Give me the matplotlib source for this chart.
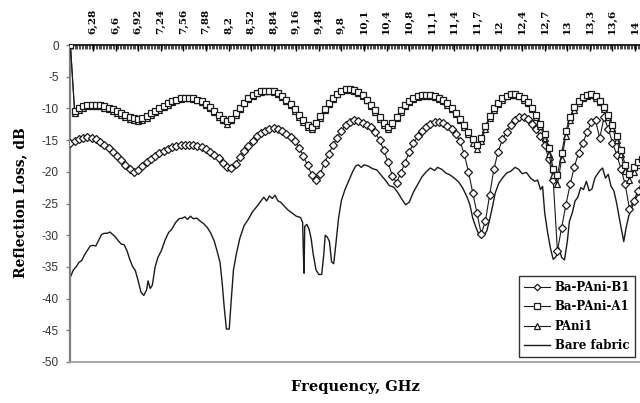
import numpy as np
import matplotlib
matplotlib.use("Agg")
import matplotlib.pyplot as plt

# ---------------- data ----------------
freq = [5.96, 6.02, 6.08, 6.14, 6.20, 6.26, 6.32, 6.38, 6.44, 6.50,
        6.56, 6.62, 6.68, 6.74, 6.80, 6.86, 6.92, 6.98, 7.04, 7.10,
        7.16, 7.22, 7.28, 7.34, 7.40, 7.46, 7.52, 7.58, 7.64, 7.70,
        7.76, 7.82, 7.88, 7.94, 8.00, 8.06, 8.12, 8.18, 8.24, 8.30,
        8.36, 8.42, 8.48, 8.54, 8.60, 8.66, 8.72, 8.78, 8.84, 8.90,
        8.96, 9.02, 9.08, 9.14, 9.20, 9.26, 9.32, 9.38, 9.44, 9.50,
        9.56, 9.62, 9.68, 9.74, 9.80, 9.86, 9.92, 9.98, 10.04, 10.10,
        10.16, 10.22, 10.28, 10.34, 10.40, 10.46, 10.52, 10.58, 10.64, 10.70,
        10.76, 10.82, 10.88, 10.94, 11.00, 11.06, 11.12, 11.18, 11.24, 11.30,
        11.36, 11.42, 11.48, 11.54, 11.60, 11.66, 11.72, 11.78, 11.84, 11.90,
        11.96, 12.02, 12.08, 12.14, 12.20, 12.26, 12.32, 12.38, 12.44, 12.50,
        12.56, 12.62, 12.68, 12.74, 12.80, 12.86, 12.92, 12.98, 13.04, 13.10,
        13.16, 13.22, 13.28, 13.34, 13.40, 13.46, 13.52, 13.58, 13.64, 13.70,
        13.76, 13.82, 13.88, 13.94, 14.00, 14.06]

ba_pani_b1 = [-15.4, -15.1, -14.8, -14.6, -14.5, -14.6, -14.9, -15.3, -15.8, -16.3,
              -16.9, -17.5, -18.2, -18.9, -19.6, -20.0, -19.7, -19.1, -18.5, -18.0,
              -17.5, -17.1, -16.7, -16.4, -16.1, -15.9, -15.8, -15.7, -15.7, -15.8,
              -15.9, -16.1, -16.4, -16.8, -17.3, -17.9, -18.6, -19.2, -19.4, -18.7,
              -17.7, -16.7, -15.9, -15.1, -14.4, -13.9, -13.5, -13.2, -13.1, -13.3,
              -13.6, -14.0, -14.5, -15.2, -16.2, -17.5, -19.0, -20.5, -21.3, -20.3,
              -18.6, -17.2, -15.8, -14.6, -13.5, -12.6, -12.1, -11.9, -12.0, -12.3,
              -12.6, -13.0, -13.8, -15.0, -16.6, -18.5, -20.6, -21.7, -20.2, -18.6,
              -16.9, -15.5, -14.4, -13.6, -13.0, -12.5, -12.2, -12.1, -12.3, -12.7,
              -13.2, -14.0, -15.2, -17.2, -20.0, -23.3, -26.5, -29.8, -27.8, -23.6,
              -19.6, -16.8, -14.9, -13.7, -12.6, -11.8, -11.3, -11.3, -11.7, -12.4,
              -13.3, -14.4, -15.8, -18.0, -21.3, -32.5, -28.8, -25.2, -22.0, -19.2,
              -17.0, -15.4, -13.8, -12.2, -11.9, -14.7, -11.4, -13.2, -15.4, -17.3,
              -19.5, -22.0, -25.8, -24.6, -23.0, -21.5]

ba_pani_a1 = [0.0, -10.4, -10.0, -9.7, -9.5, -9.4, -9.4, -9.5, -9.7, -9.9,
              -10.1, -10.4, -10.7, -11.0, -11.3, -11.5, -11.6, -11.5, -11.2, -10.8,
              -10.4, -10.0, -9.6, -9.2, -8.9, -8.6, -8.4, -8.3, -8.3, -8.4,
              -8.6, -8.9, -9.3, -9.8, -10.4, -11.0, -11.6, -12.0, -11.6, -10.8,
              -9.9, -9.1, -8.4, -7.9, -7.5, -7.3, -7.2, -7.2, -7.3, -7.6,
              -8.0, -8.6, -9.3, -10.1, -11.0, -11.9, -12.6, -12.9, -12.3, -11.2,
              -10.1, -9.1, -8.3, -7.7, -7.2, -7.0, -7.0, -7.1, -7.4, -7.9,
              -8.6, -9.4, -10.3, -11.3, -12.3, -12.9, -12.3, -11.3, -10.3, -9.5,
              -8.9, -8.4, -8.1, -7.9, -7.9, -7.9, -8.0, -8.3, -8.7, -9.2,
              -9.9, -10.7, -11.6, -12.6, -13.7, -14.9, -15.8, -14.6, -12.8, -11.2,
              -10.0, -9.1, -8.4, -8.0, -7.8, -7.8, -8.0, -8.4, -9.0, -9.9,
              -11.0, -12.4, -14.1, -16.3, -19.5, -20.5, -17.0, -13.6, -11.3, -9.8,
              -8.8, -8.2, -7.9, -7.8, -8.1, -8.8, -9.8, -11.0, -12.6, -14.4,
              -16.5, -18.9, -20.3, -19.2, -18.5, -18.0]

pani1 = [0.0, -10.8, -10.3, -9.9, -9.7, -9.6, -9.6, -9.7, -9.9, -10.1,
         -10.4, -10.7, -11.0, -11.3, -11.6, -11.9, -12.0, -11.8, -11.5, -11.1,
         -10.6, -10.2, -9.8, -9.4, -9.0, -8.7, -8.5, -8.4, -8.4, -8.5,
         -8.7, -9.0, -9.5, -10.0, -10.6, -11.3, -11.9, -12.4, -11.9, -11.0,
         -10.1, -9.2, -8.5, -8.0, -7.6, -7.4, -7.3, -7.3, -7.4, -7.7,
         -8.2, -8.8, -9.5, -10.4, -11.3, -12.2, -12.9, -13.3, -12.6, -11.5,
         -10.3, -9.3, -8.5, -7.8, -7.3, -7.1, -7.1, -7.2, -7.5, -8.0,
         -8.7, -9.6, -10.5, -11.6, -12.6, -13.3, -12.6, -11.5, -10.5, -9.6,
         -9.0, -8.5, -8.2, -8.0, -8.0, -8.0, -8.2, -8.5, -8.9, -9.4,
         -10.1, -10.9, -11.9, -12.9, -14.1, -15.4, -16.4, -15.1, -13.2, -11.5,
         -10.2, -9.3, -8.6, -8.1, -7.9, -7.9, -8.1, -8.6, -9.2, -10.1,
         -11.3, -12.8, -14.7, -17.2, -20.5, -22.0, -18.0, -14.3, -11.8, -10.2,
         -9.1, -8.4, -8.1, -7.9, -8.3, -9.0, -10.1, -11.4, -13.1, -15.0,
         -17.2, -19.8, -21.3, -20.0, -19.0, -18.5]

bare_freq = [5.96, 6.00, 6.04, 6.08, 6.12, 6.16, 6.20, 6.24, 6.28, 6.32,
             6.36, 6.40, 6.44, 6.48, 6.52, 6.56, 6.60, 6.64, 6.68, 6.72,
             6.76, 6.80, 6.84, 6.88, 6.92, 6.96, 7.00, 7.04, 7.06, 7.09,
             7.12, 7.16, 7.20, 7.25, 7.30, 7.35, 7.40, 7.45, 7.50, 7.55,
             7.58, 7.62, 7.66, 7.70, 7.75, 7.80, 7.85, 7.90, 7.95, 8.00,
             8.04, 8.08, 8.11, 8.14, 8.17, 8.21, 8.24, 8.27, 8.31, 8.36,
             8.42, 8.48, 8.54, 8.60, 8.66, 8.70, 8.74, 8.78, 8.82, 8.86,
             8.90, 8.94, 8.98, 9.04, 9.10, 9.16, 9.22, 9.25, 9.26, 9.27,
             9.28, 9.31, 9.34, 9.37, 9.40, 9.44, 9.48, 9.52, 9.55, 9.57,
             9.60, 9.63, 9.66, 9.69, 9.72, 9.76, 9.80, 9.85, 9.90, 9.95,
             10.00, 10.04, 10.08, 10.12, 10.18, 10.24, 10.30, 10.36, 10.42, 10.48,
             10.54, 10.60, 10.66, 10.71, 10.76, 10.82, 10.88, 10.94, 11.00, 11.06,
             11.12, 11.16, 11.22, 11.28, 11.34, 11.40, 11.46, 11.52, 11.58, 11.62,
             11.66, 11.70, 11.74, 11.78, 11.82, 11.86, 11.90, 11.94, 11.98, 12.03,
             12.08, 12.14, 12.20, 12.26, 12.31, 12.36, 12.42, 12.48, 12.54, 12.58,
             12.62, 12.65, 12.68, 12.72, 12.76, 12.80, 12.84, 12.88, 12.92, 12.96,
             13.00, 13.03, 13.07, 13.11, 13.15, 13.19, 13.23, 13.27, 13.31, 13.35,
             13.39, 13.43, 13.47, 13.50, 13.54, 13.58, 13.62, 13.66, 13.70, 13.74,
             13.78, 13.80, 13.83, 13.87, 13.91, 13.95, 13.99, 14.03]

bare_fabric = [-36.6, -35.5, -35.0, -34.3, -34.0, -33.1, -32.4, -31.7, -31.6, -31.7,
               -30.8, -29.9, -29.7, -29.7, -29.5, -29.9, -30.3, -30.9, -31.4, -31.5,
               -32.4, -33.8, -34.9, -35.6, -37.2, -39.0, -39.5, -38.6, -37.2, -38.4,
               -37.9, -35.0, -33.5, -32.4, -30.8, -29.6, -29.0, -28.0, -27.4, -27.3,
               -27.1, -27.5, -27.0, -27.4, -27.3, -27.8, -28.2, -28.8, -29.7, -31.0,
               -32.6, -34.3, -37.5, -41.5, -44.8, -44.8, -40.0, -35.5, -33.0, -30.5,
               -28.5, -27.5, -26.3, -25.5, -24.6, -24.0, -24.6, -23.8, -24.2, -23.7,
               -24.6, -24.8, -25.3, -26.0, -26.5, -27.0, -27.2, -28.0, -32.5, -36.0,
               -28.6, -28.3, -29.0, -30.5, -33.0, -35.5, -36.2, -36.2, -33.0, -30.0,
               -30.3, -31.0, -34.2, -34.5, -31.5, -27.2, -24.5, -22.8, -21.5, -20.2,
               -19.1, -18.9, -19.3, -18.9, -19.1, -19.5, -19.7, -20.5, -21.3, -22.2,
               -22.4, -23.3, -24.4, -25.2, -24.8, -23.2, -22.0, -20.8, -20.0, -19.4,
               -19.8, -19.3, -19.6, -20.2, -20.5, -21.0, -21.6, -22.6, -24.0, -25.2,
               -27.3, -28.6, -29.7, -30.2, -30.0, -29.3, -27.5, -25.5, -23.3, -21.8,
               -21.0, -20.2, -19.9, -19.3, -19.6, -20.3, -20.1, -21.0, -21.5, -21.3,
               -22.8, -22.3, -26.5, -29.5, -32.0, -33.8, -33.4, -32.0, -33.5, -33.9,
               -31.0, -27.8, -26.5, -24.6, -24.0, -22.5, -22.8, -21.5, -23.0, -22.7,
               -21.0, -20.3, -19.7, -19.4, -21.0, -20.4, -22.3, -23.0, -25.0, -27.5,
               -29.8, -31.0, -29.0, -27.0, -25.8, -24.5, -23.8, -23.5]

tick_freqs = [6.28, 6.60, 6.92, 7.24, 7.56, 7.88, 8.20, 8.52, 8.84, 9.16,
              9.48, 9.80, 10.12, 10.44, 10.76, 11.08, 11.40, 11.72, 12.04, 12.36,
              12.68, 13.00, 13.32, 13.64, 13.96]
tick_labels = ["6,28", "6,6", "6,92", "7,24", "7,56", "7,88", "8,2", "8,52", "8,84", "9,16",
               "9,48", "9,8", "10,1", "10,4", "10,8", "11,1", "11,4", "11,7", "12", "12,4",
               "12,7", "13", "13,3", "13,6", "14"]
y_ticks = [0, -5, -10, -15, -20, -25, -30, -35, -40, -45, -50]
series_names = ["Ba-PAni-B1", "Ba-PAni-A1", "PAni1", "Bare fabric"]

# ---------------- figure ----------------
W, H = 640, 403
fig = plt.figure(figsize=(W / 100, H / 100), dpi=100)
ax = fig.add_axes([70 / W, 1 - 362 / H, 1 - 70 / W, (362 - 45) / H])

ink = "#1a1a1a"
serif = "DejaVu Serif"

ax.plot(bare_freq, bare_fabric, color=ink, lw=1.0, label=series_names[3], zorder=2)
ax.plot(freq, ba_pani_b1, color=ink, lw=0.8, marker="D", ms=4.2, mfc="white",
        mec=ink, mew=0.9, label=series_names[0], zorder=3)
ax.plot(freq, pani1, color=ink, lw=0.8, marker="^", ms=5.0, mfc="white",
        mec=ink, mew=0.9, label=series_names[2], zorder=4)
ax.plot(freq, ba_pani_a1, color=ink, lw=0.8, marker="s", ms=4.6, mfc="white",
        mec=ink, mew=0.9, label=series_names[1], zorder=5)

ax.set_xlim(5.954, 14.03)
ax.set_ylim(-50, 0)

# top category axis
ax.xaxis.tick_top()
ax.set_xticks(tick_freqs)
ax.set_xticklabels(tick_labels, rotation=90, fontsize=7.5, fontweight="bold",
                   family=serif)
ax.set_xticks(np.arange(5.96, 14.04, 0.02), minor=True)
ax.tick_params(axis="x", which="major", direction="in", length=4, width=1.0,
               color="black", pad=8)
ax.tick_params(axis="x", which="minor", direction="in", length=3, width=0.5,
               color="black", top=True, bottom=False)

ax.set_yticks(y_ticks)
ax.set_yticklabels([str(v) for v in y_ticks], fontsize=8.5, family="Liberation Sans",
                   color="#333333")
ax.tick_params(axis="y", direction="out", length=3, width=1.0, color="#808080", pad=5)

ax.spines["right"].set_visible(False)
ax.spines["top"].set_color("black")
ax.spines["top"].set_linewidth(1.2)
ax.spines["left"].set_color("#808080")
ax.spines["left"].set_linewidth(1.6)
ax.spines["bottom"].set_color("#9a9a9a")
ax.spines["bottom"].set_linewidth(1.2)

fig.text(355 / W, 1 - 387 / H, "Frequency, GHz", ha="center", va="center",
         fontsize=10.5, fontweight="bold", family=serif)
fig.text(20 / W, 1 - 203 / H, "Reflection Loss, dB", ha="center", va="center",
         rotation=90, fontsize=10, fontweight="bold", family=serif)

handles, labels = ax.get_legend_handles_labels()
order = [labels.index(n) for n in series_names]
leg = ax.legend([handles[i] for i in order], [labels[i] for i in order],
                loc="lower right", bbox_to_anchor=(635 / W, 1 - 357 / H),
                bbox_transform=fig.transFigure, borderaxespad=0,
                prop={"family": serif, "weight": "bold", "size": 8.5},
                frameon=True, fancybox=False, edgecolor="black",
                handlelength=2.2, handletextpad=0.4, labelspacing=0.55,
                borderpad=0.4, markerscale=0.8)
leg.get_frame().set_linewidth(1.0)

fig.savefig("out.png", dpi=100)
